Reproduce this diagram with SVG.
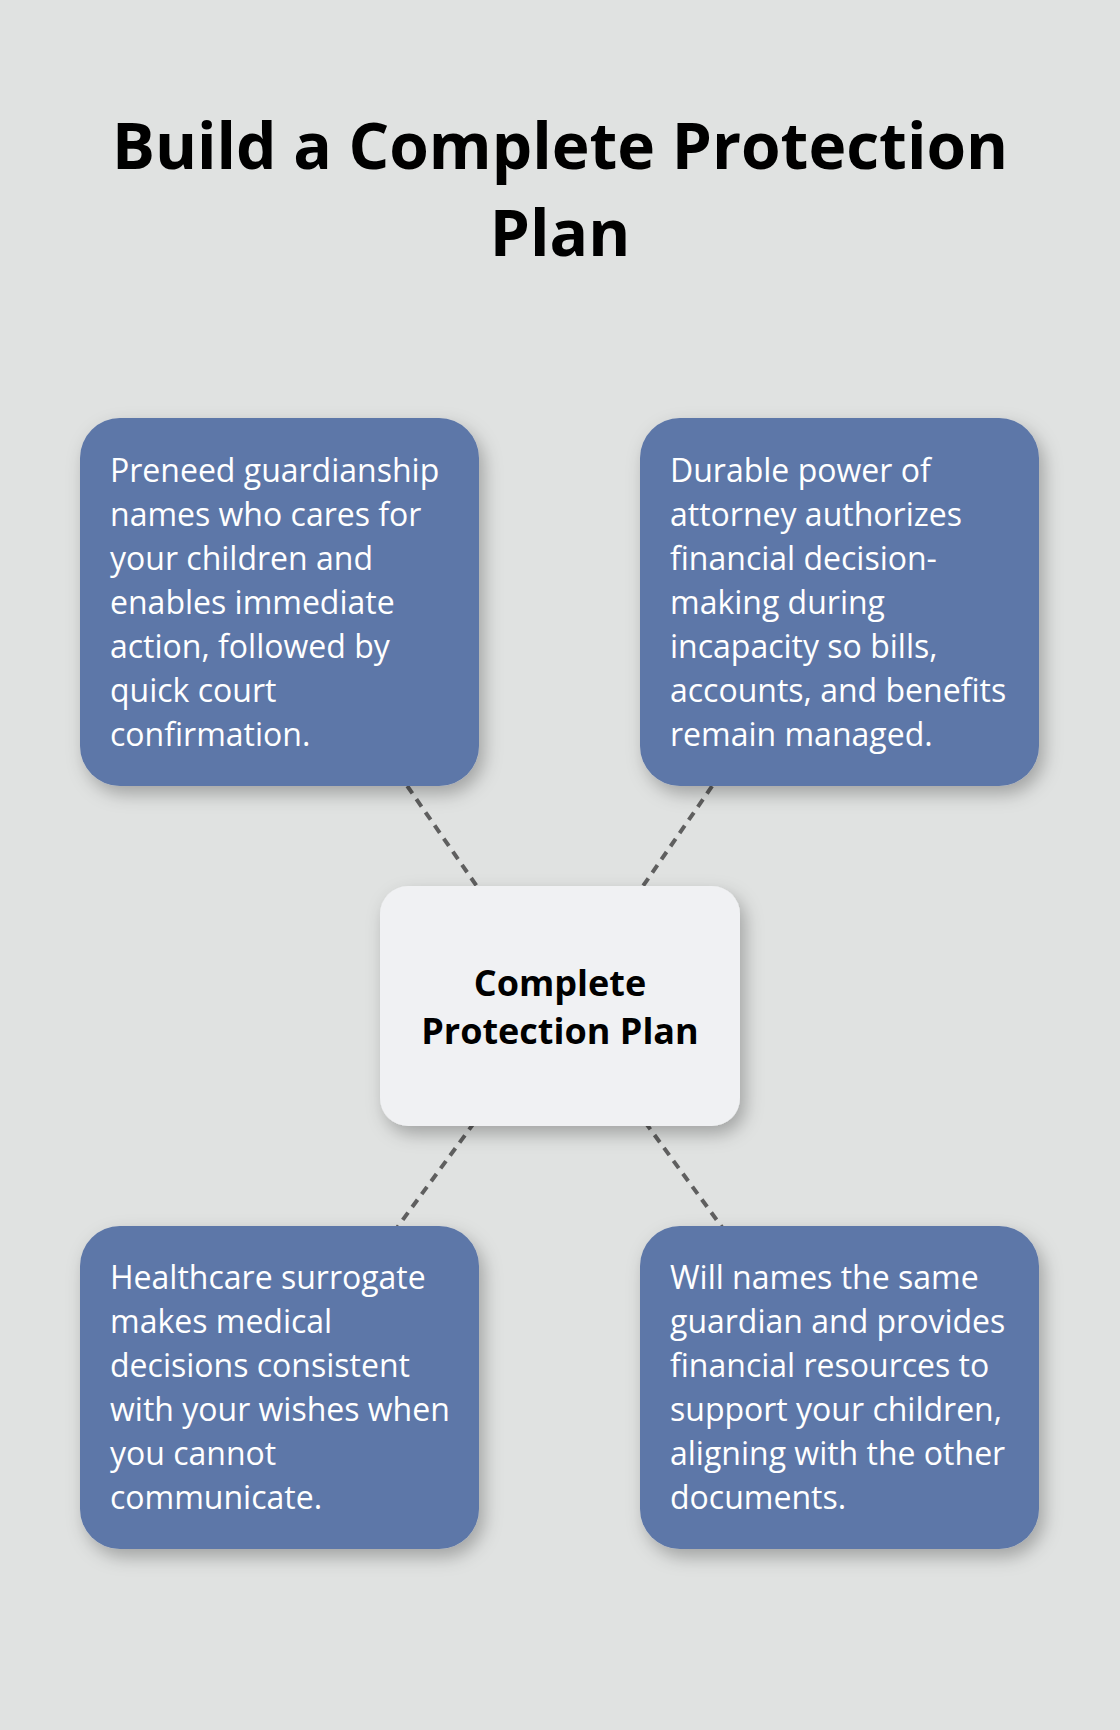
<svg xmlns="http://www.w3.org/2000/svg" width="1120" height="1730" viewBox="0 0 1120 1730">
<style>
.title{font-family:"Open Sans","Noto Sans",sans-serif;font-weight:700;font-size:64px;fill:#000;text-anchor:middle}
.body{font-family:"Open Sans","Noto Sans",sans-serif;font-size:32px;fill:#fff}
.ctr{font-family:"Open Sans","Noto Sans",sans-serif;font-weight:700;font-size:36px;fill:#000;text-anchor:middle}
.box{fill:#5d77a8;filter:url(#sh)}
.cbox{fill:#f0f1f3;filter:url(#sh)}
.conn{stroke:#5f5f5f;stroke-width:4;stroke-dasharray:9 7;fill:none}
</style>
<defs>
<filter id="sh" x="-20%" y="-20%" width="150%" height="150%">
<feDropShadow dx="5" dy="8" stdDeviation="9" flood-color="#000" flood-opacity="0.28"/>
</filter>
</defs>
<rect width="1120" height="1730" fill="#e0e2e1"/>
<g id="title">
<text class="title" x="560" y="169">Build a Complete Protection</text>
<text class="title" x="560" y="256">Plan</text>
</g>
<g id="connectors">
<line class="conn" x1="279.5" y1="602" x2="560" y2="1006"/>
<line class="conn" x1="839.5" y1="602" x2="560" y2="1006"/>
<line class="conn" x1="279.5" y1="1387.5" x2="560" y2="1006"/>
<line class="conn" x1="839.5" y1="1387.5" x2="560" y2="1006"/>
</g>
<g id="node-guardianship">
<rect class="box" x="80" y="418" width="399" height="368" rx="40"/>
<text class="body" x="110" y="482">Preneed guardianship</text>
<text class="body" x="110" y="526">names who cares for</text>
<text class="body" x="110" y="570">your children and</text>
<text class="body" x="110" y="614">enables immediate</text>
<text class="body" x="110" y="658">action, followed by</text>
<text class="body" x="110" y="702">quick court</text>
<text class="body" x="110" y="746">confirmation.</text>
</g>
<g id="node-poa">
<rect class="box" x="640" y="418" width="399" height="368" rx="40"/>
<text class="body" x="670" y="482">Durable power of</text>
<text class="body" x="670" y="526">attorney authorizes</text>
<text class="body" x="670" y="570">financial decision-</text>
<text class="body" x="670" y="614">making during</text>
<text class="body" x="670" y="658">incapacity so bills,</text>
<text class="body" x="670" y="702">accounts, and benefits</text>
<text class="body" x="670" y="746">remain managed.</text>
</g>
<g id="node-center">
<rect class="cbox" x="380" y="886" width="360" height="240" rx="28"/>
<text class="ctr" x="560" y="996">Complete</text>
<text class="ctr" x="560" y="1044">Protection Plan</text>
</g>
<g id="node-healthcare">
<rect class="box" x="80" y="1226" width="399" height="323" rx="40"/>
<text class="body" x="110" y="1289">Healthcare surrogate</text>
<text class="body" x="110" y="1333">makes medical</text>
<text class="body" x="110" y="1377">decisions consistent</text>
<text class="body" x="110" y="1421">with your wishes when</text>
<text class="body" x="110" y="1465">you cannot</text>
<text class="body" x="110" y="1509">communicate.</text>
</g>
<g id="node-will">
<rect class="box" x="640" y="1226" width="399" height="323" rx="40"/>
<text class="body" x="670" y="1289">Will names the same</text>
<text class="body" x="670" y="1333">guardian and provides</text>
<text class="body" x="670" y="1377">financial resources to</text>
<text class="body" x="670" y="1421">support your children,</text>
<text class="body" x="670" y="1465">aligning with the other</text>
<text class="body" x="670" y="1509">documents.</text>
</g>
</svg>
